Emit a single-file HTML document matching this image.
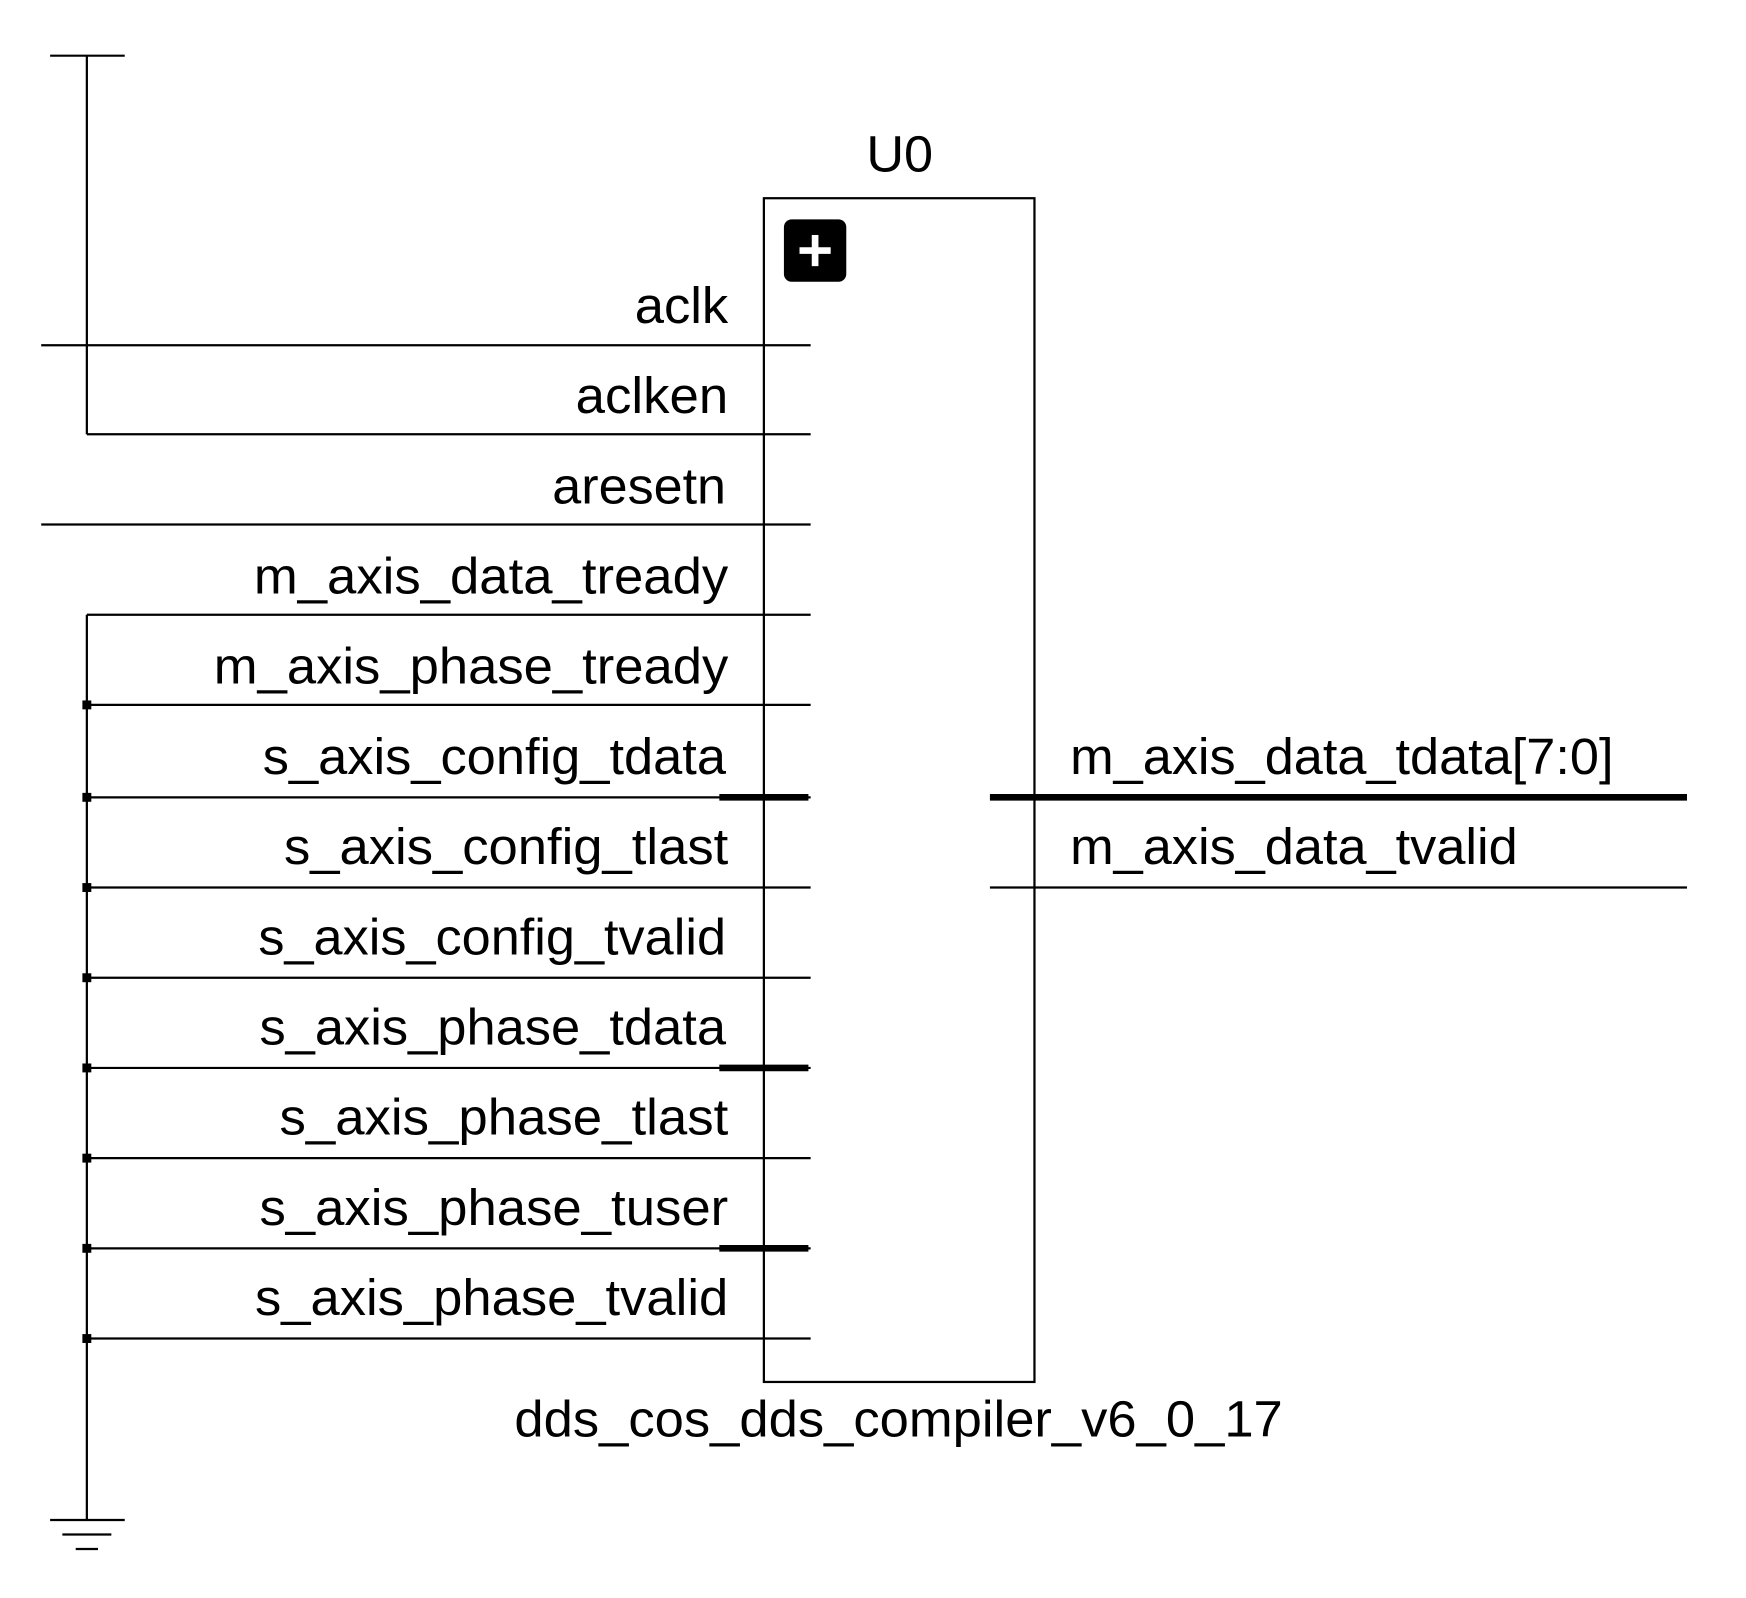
<!DOCTYPE html>
<html><head><meta charset="utf-8"><style>
html,body{margin:0;padding:0;background:#fff;}
svg{display:block;}
text{font-family:"Liberation Sans",Arial,sans-serif;font-size:46px;fill:#000;}
</style></head><body>
<svg width="1746" height="1598" viewBox="0 0 1568 1435" preserveAspectRatio="none" xmlns="http://www.w3.org/2000/svg">
<g stroke="#000" stroke-width="2" fill="none">
<line x1="45" y1="50" x2="112" y2="50"/>
<line x1="78" y1="50" x2="78" y2="390"/>
<rect x="686" y="178" width="243" height="1063"/>
<line x1="37" y1="310" x2="728" y2="310"/>
<line x1="78" y1="390" x2="728" y2="390"/>
<line x1="37" y1="471" x2="728" y2="471"/>
<line x1="78" y1="552" x2="728" y2="552"/>
<line x1="78" y1="633" x2="728" y2="633"/>
<line x1="78" y1="716" x2="728" y2="716"/>
<line x1="78" y1="797" x2="728" y2="797"/>
<line x1="78" y1="878" x2="728" y2="878"/>
<line x1="78" y1="959" x2="728" y2="959"/>
<line x1="78" y1="1040" x2="728" y2="1040"/>
<line x1="78" y1="1121" x2="728" y2="1121"/>
<line x1="78" y1="1202" x2="728" y2="1202"/>
<line x1="78" y1="552" x2="78" y2="1365"/>
<line x1="45" y1="1365" x2="112" y2="1365"/>
<line x1="56" y1="1378" x2="100" y2="1378"/>
<line x1="68" y1="1391" x2="88" y2="1391"/>
<line x1="889" y1="797" x2="1515" y2="797"/>
</g>
<g stroke="#000" stroke-width="6">
<line x1="646" y1="716" x2="726" y2="716"/>
<line x1="646" y1="959" x2="726" y2="959"/>
<line x1="646" y1="1121" x2="726" y2="1121"/>
<line x1="889" y1="716" x2="1515" y2="716"/>
</g>
<g fill="#000">
<rect x="74" y="629" width="8" height="8"/>
<rect x="74" y="712" width="8" height="8"/>
<rect x="74" y="793" width="8" height="8"/>
<rect x="74" y="874" width="8" height="8"/>
<rect x="74" y="955" width="8" height="8"/>
<rect x="74" y="1036" width="8" height="8"/>
<rect x="74" y="1117" width="8" height="8"/>
<rect x="74" y="1198" width="8" height="8"/>
<rect x="704" y="197" width="56" height="56" rx="7"/>
</g>
<g stroke="#fff" stroke-width="6">
<line x1="718" y1="225" x2="746" y2="225"/>
<line x1="732" y1="211" x2="732" y2="239"/>
</g>
<text x="778" y="154" textLength="60" lengthAdjust="spacingAndGlyphs">U0</text>
<text x="570" y="290" textLength="84" lengthAdjust="spacingAndGlyphs">aclk</text>
<text x="517" y="371" textLength="137" lengthAdjust="spacingAndGlyphs">aclken</text>
<text x="496" y="452" textLength="156" lengthAdjust="spacingAndGlyphs">aresetn</text>
<text x="228" y="533" textLength="426" lengthAdjust="spacingAndGlyphs">m_axis_data_tready</text>
<text x="192" y="614" textLength="462" lengthAdjust="spacingAndGlyphs">m_axis_phase_tready</text>
<text x="236" y="695" textLength="416" lengthAdjust="spacingAndGlyphs">s_axis_config_tdata</text>
<text x="255" y="776" textLength="399" lengthAdjust="spacingAndGlyphs">s_axis_config_tlast</text>
<text x="232" y="857" textLength="420" lengthAdjust="spacingAndGlyphs">s_axis_config_tvalid</text>
<text x="233" y="938" textLength="419" lengthAdjust="spacingAndGlyphs">s_axis_phase_tdata</text>
<text x="251" y="1019" textLength="403" lengthAdjust="spacingAndGlyphs">s_axis_phase_tlast</text>
<text x="233" y="1100" textLength="421" lengthAdjust="spacingAndGlyphs">s_axis_phase_tuser</text>
<text x="229" y="1181" textLength="425" lengthAdjust="spacingAndGlyphs">s_axis_phase_tvalid</text>
<text x="961" y="695" textLength="488" lengthAdjust="spacingAndGlyphs">m_axis_data_tdata[7:0]</text>
<text x="961" y="776" textLength="402" lengthAdjust="spacingAndGlyphs">m_axis_data_tvalid</text>
<text x="462" y="1290" textLength="690" lengthAdjust="spacingAndGlyphs">dds_cos_dds_compiler_v6_0_17</text>
</svg>
</body></html>
